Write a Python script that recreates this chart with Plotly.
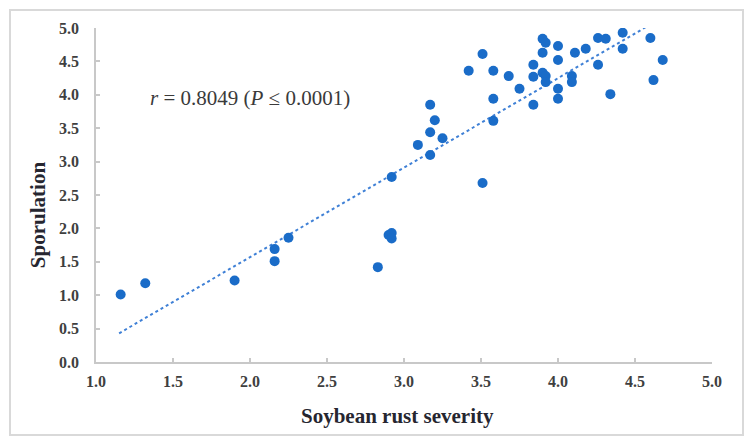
import plotly.graph_objects as go

# Soybean rust severity (x) vs Sporulation (y)
severity = [1.16, 1.32, 1.90, 2.16, 2.16, 2.25, 2.83, 2.90, 2.92, 2.92,
            2.92, 3.09, 3.17, 3.17, 3.20, 3.25, 3.17, 3.51, 3.51, 3.42,
            3.58, 3.58, 3.58, 3.68, 3.75, 3.84, 3.84, 3.84, 3.90, 3.92,
            3.90, 3.90, 3.92, 3.92, 4.00, 4.00, 4.00, 4.00, 4.09, 4.09,
            4.11, 4.18, 4.26, 4.26, 4.31, 4.34, 4.42, 4.42, 4.60, 4.62,
            4.68]
sporulation = [1.01, 1.18, 1.22, 1.69, 1.51, 1.86, 1.42, 1.90, 1.93, 1.85,
               2.77, 3.25, 3.44, 3.85, 3.62, 3.35, 3.10, 2.68, 4.61, 4.36,
               4.36, 3.94, 3.61, 4.28, 4.09, 4.45, 4.27, 3.85, 4.84, 4.78,
               4.63, 4.33, 4.28, 4.19, 4.73, 4.52, 4.09, 3.94, 4.28, 4.19,
               4.63, 4.69, 4.85, 4.45, 4.84, 4.01, 4.93, 4.69, 4.85, 4.22,
               4.52]

# Linear trendline end points
trend_x = [1.15, 4.68]
trend_y = [0.43, 5.16]

x_ticks = [1.0, 1.5, 2.0, 2.5, 3.0, 3.5, 4.0, 4.5, 5.0]
y_ticks = [0.0, 0.5, 1.0, 1.5, 2.0, 2.5, 3.0, 3.5, 4.0, 4.5, 5.0]
x_tick_labels = [f"{v:.1f}" for v in x_ticks]
y_tick_labels = [f"{v:.1f}" for v in y_ticks]

annotation_text = "<i>r</i> = 0.8049 (<i>P</i> ≤ 0.0001)"
x_title = "Soybean rust severity"
y_title = "Sporulation"

serif = "Liberation Serif, Times New Roman, serif"
blue = "#1a6cc8"

fig = go.Figure()
fig.add_trace(go.Scatter(
    x=trend_x, y=trend_y, mode="lines",
    line=dict(color="#3f80d6", width=2, dash="dot"),
    hoverinfo="skip", showlegend=False,
))
fig.add_trace(go.Scatter(
    x=severity, y=sporulation, mode="markers",
    marker=dict(color=blue, size=10, line=dict(width=0)),
    showlegend=False,
))

axis_common = dict(
    showgrid=False, zeroline=False, showline=True,
    linecolor="#c8c8c8", linewidth=1.5,
    ticks="inside", ticklen=4, tickcolor="#c8c8c8", tickwidth=1.5,
    tickfont=dict(family=serif, size=16, color="#3f3f3f"),
)

fig.update_xaxes(range=[1, 5], tickvals=x_ticks,
                 ticktext=[f"<b>{t}</b>" for t in x_tick_labels],
                 ticklabelstandoff=4, **axis_common)
fig.update_yaxes(range=[0, 5], tickvals=y_ticks,
                 ticktext=[f"<b>{t}</b>" for t in y_tick_labels],
                 ticklabelstandoff=12, **axis_common)

fig.add_annotation(
    x=2.0, y=3.95, xref="x", yref="y", text=annotation_text,
    showarrow=False, xanchor="center", yanchor="middle",
    font=dict(family=serif, size=21, color="#3a3a3a"),
)
fig.add_annotation(
    x=0.489, y=-0.162, xref="paper", yref="paper", text=f"<b>{x_title}</b>",
    showarrow=False, xanchor="center", yanchor="middle",
    font=dict(family=serif, size=21, color="#262630"),
)
fig.add_annotation(
    x=-0.094, y=0.44, xref="paper", yref="paper", text=f"<b>{y_title}</b>",
    showarrow=False, xanchor="center", yanchor="middle", textangle=-90,
    font=dict(family=serif, size=21, color="#262630"),
)

# light grey frame around the whole chart
fig.add_shape(
    type="rect", xref="paper", yref="paper",
    x0=-0.1396, x1=1.0503, y0=-0.2186, y1=1.0539,
    line=dict(color="#d9d9d9", width=2), fillcolor="rgba(0,0,0,0)",
    layer="below",
)

# page body has an 8px default margin, so the figure is sized to fit
fig.update_layout(
    width=747, height=439,
    margin=dict(l=88, r=43, t=20, b=85, autoexpand=False),
    plot_bgcolor="white", paper_bgcolor="white",
)

fig.write_html("out.html")
